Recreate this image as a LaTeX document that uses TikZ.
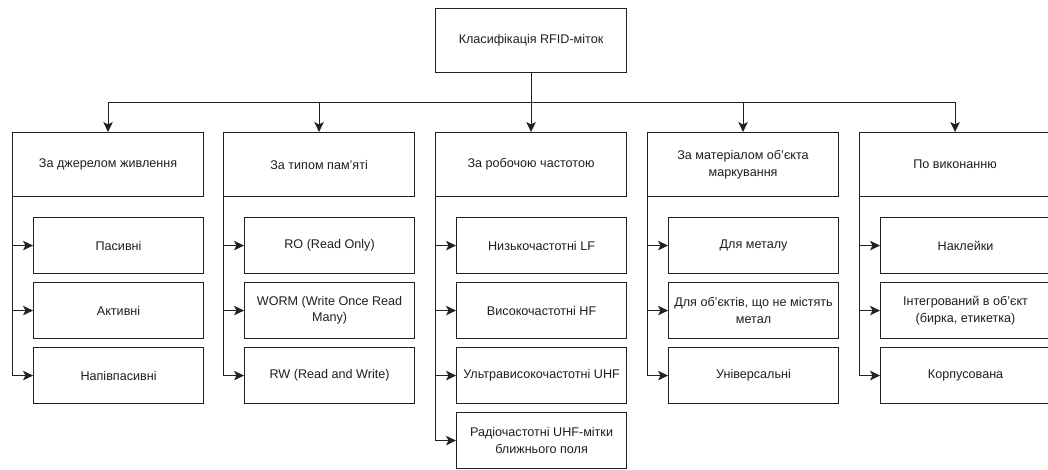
\documentclass[tikz,border=0pt]{standalone}
\usepackage{fontspec}
\setmainfont{Liberation Sans}
\usetikzlibrary{arrows.meta}
\definecolor{linec}{RGB}{34,34,34}
\definecolor{textc}{RGB}{30,30,30}
\begin{document}
\begin{tikzpicture}[x=1pt,y=-1pt,
  every node/.style={text=textc, font=\fontsize{12.6}{16.3}\selectfont},
  headbox/.style={draw=linec, line width=1.1pt, minimum width=191pt, minimum height=64pt,
    align=center, inner sep=0pt, anchor=north west},
  itembox/.style={draw=linec, line width=1.1pt, minimum width=170pt, minimum height=56pt,
    align=center, inner sep=0pt, anchor=north west},
  link/.style={draw=linec, line width=1pt},
  arr/.style={link, -{Stealth[length=10pt,width=9.5pt,inset=2.5pt]}}]
\useasboundingbox (0,0) rectangle (1048,469);
\clip (0,0) rectangle (1048,469);

% root
\node[headbox] (root) at (435,8) {Класифікація RFID-міток};

% category headers
\node[headbox] (h1) at (12,132)  {За джерелом живлення};
\node[headbox] (h2) at (223,132) {За типом пам'яті};
\node[headbox] (h3) at (435,132) {За робочою частотою};
\node[headbox] (h4) at (647,132) {За матеріалом об’єкта\\маркування};
\node[headbox] (h5) at (859,132) {По виконанню};

% items
\node[itembox] (a1) at (33,217) {Пасивні};
\node[itembox] (a2) at (33,282) {Активні};
\node[itembox] (a3) at (33,347) {Напівпасивні};

\node[itembox] (b1) at (244,217) {RO (Read Only)};
\node[itembox] (b2) at (244,282) {WORM (Write Once Read\\Many)};
\node[itembox] (b3) at (244,347) {RW (Read and Write)};

\node[itembox] (c1) at (456,217) {Низькочастотні LF};
\node[itembox] (c2) at (456,282) {Високочастотні HF};
\node[itembox] (c3) at (456,347) {Ультрависокочастотні UHF};
\node[itembox] (c4) at (456,412) {Радіочастотні UHF-мітки\\ближнього поля};

\node[itembox] (d1) at (668,217) {Для металу};
\node[itembox] (d2) at (668,282) {Для об’єктів, що не містять\\метал};
\node[itembox] (d3) at (668,347) {Універсальні};

\node[itembox] (e1) at (880,217) {Наклейки};
\node[itembox] (e2) at (880,282) {Інтегрований в об’єкт\\(бирка, етикетка)};
\node[itembox] (e3) at (880,347) {Корпусована};

% root to categories
\coordinate (bus) at (root.south |- 0,102);
\draw[link] (root.south) -- (bus);
\draw[arr] (bus) -- (h3.north);
\foreach \h in {h1,h2,h4,h5}
  \draw[arr] (bus) -| (\h.north);

% categories to items
\foreach \h/\items in {h1/{a1,a2,a3}, h2/{b1,b2,b3}, h3/{c1,c2,c3,c4}, h4/{d1,d2,d3}, h5/{e1,e2,e3}}
  \foreach \i in \items
    \draw[arr] (\h.south west) |- (\i.west);
\end{tikzpicture}
\end{document}
